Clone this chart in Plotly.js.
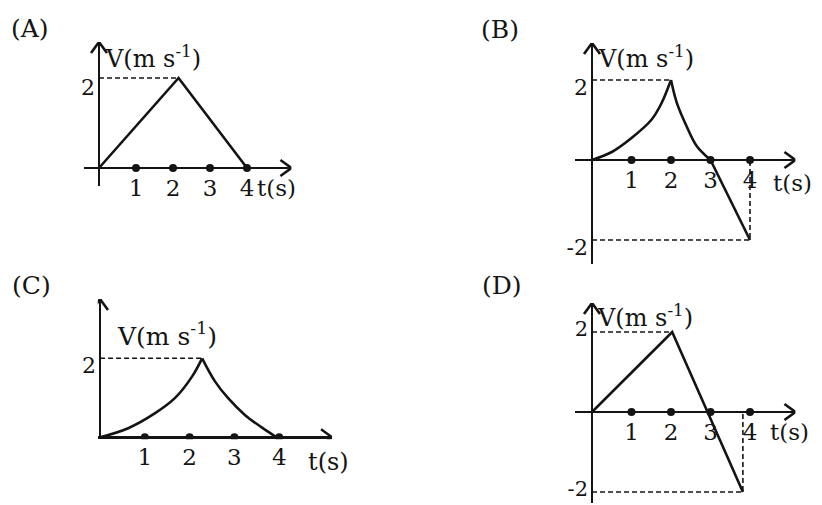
<!DOCTYPE html>
<html>
<head>
<meta charset="utf-8">
<script src="https://cdn.plot.ly/plotly-3.0.1.min.js"></script>
<style>html,body{margin:0;padding:0;background:#fff;}#chart{width:822px;height:505px;}</style>
</head>
<body>
<div id="chart"></div>
<script>
// ---- data ----
const panelNames = ['(A)', '(B)', '(C)', '(D)'];
const tickVals = [1, 2, 3, 4];
const tickLabels = ['1', '2', '3', '4'];
const yTicksPos = [2];
const yTicksPosNeg = [-2, 2];
const yLabelsPos = ['2'];
const yLabelsPosNeg = ['-2', '2'];
const vLabel = 'V(m s<sup>-1</sup>)';
const tLabel = 't(s)';

// (A) straight rise and fall
const tA = [0, 2.15, 4];
const vA = [0, 2, 0];
// (B) curved rise, curved fall, straight tail
const tBrise = [0, 0.5, 1, 1.5, 1.75, 2];
const vBrise = [0, 0.2, 0.55, 1.0, 1.4, 2];
const tBfall = [2, 2.15, 2.4, 2.65, 3];
const vBfall = [2, 1.42, 0.83, 0.35, 0];
const tBtail = [3, 4];
const vBtail = [0, -2];
// (C) curved rise, curved fall
const tCrise = [0, 0.63, 1.23, 1.67, 2.05, 2.28];
const vCrise = [0, 0.23, 0.61, 0.99, 1.53, 2];
const tCfall = [2.28, 2.57, 2.86, 3.24, 3.61, 3.94];
const vCfall = [2, 1.41, 0.99, 0.56, 0.25, 0];
// (D) straight rise then straight fall below zero
const tD = [0, 2.03, 3.82];
const vD = [0, 2, -2];

const INK = '#141414';
const FONT = 'DejaVu Serif';

function curve(x, y, ax, shape) {
  return {x: x, y: y, xaxis: 'x' + ax, yaxis: 'y' + ax, mode: 'lines', type: 'scatter',
    line: {color: INK, width: 2.6, shape: shape || 'linear', smoothing: 1}, hoverinfo: 'skip'};
}
function dashed(x, y, ax) {
  return {x: x, y: y, xaxis: 'x' + ax, yaxis: 'y' + ax, mode: 'lines', type: 'scatter',
    line: {color: INK, width: 1.6, dash: '5px,3px'}, connectgaps: false, hoverinfo: 'skip'};
}
function dots(ax) {
  return {x: tickVals, y: tickVals.map(() => 0), xaxis: 'x' + ax, yaxis: 'y' + ax,
    mode: 'markers', type: 'scatter', marker: {color: INK, size: 8}, hoverinfo: 'skip'};
}
function peakOf(t, v) { const i = v.indexOf(Math.max(...v)); return [t[i], v[i]]; }

const pA = peakOf(tA, vA), pB = peakOf(tBrise, vBrise), pC = peakOf(tCrise, vCrise), pD = peakOf(tD, vD);
const endB = [tBtail[tBtail.length - 1], vBtail[vBtail.length - 1]];
const endD = [tD[tD.length - 1], vD[vD.length - 1]];

const traces = [
  // A
  dashed([0, pA[0]], [pA[1], pA[1]], ''),
  curve(tA, vA, ''),
  dots(''),
  // B
  dashed([0, pB[0], null, 0, endB[0], endB[0]], [pB[1], pB[1], null, endB[1], endB[1], 0], '2'),
  curve(tBrise, vBrise, '2', 'spline'),
  curve(tBfall, vBfall, '2', 'spline'),
  curve(tBtail, vBtail, '2'),
  dots('2'),
  // C
  dashed([0, pC[0]], [pC[1], pC[1]], '3'),
  curve(tCrise, vCrise, '3', 'spline'),
  curve(tCfall, vCfall, '3', 'spline'),
  dots('3'),
  // D
  dashed([0, pD[0], null, 0, endD[0], endD[0]], [pD[1], pD[1], null, endD[1], endD[1], 0], '4'),
  curve(tD, vD, '4'),
  dots('4')
];

function xAx(domain, range, pos) {
  return {domain: domain, range: range, anchor: 'free', position: pos,
    tickmode: 'array', tickvals: tickVals, ticktext: tickLabels, ticks: '',
    ticklabelstandoff: 4, ticklabeloverflow: 'allow', showgrid: false, showline: false,
    zeroline: true, zerolinecolor: INK, zerolinewidth: 2.6, fixedrange: true,
    tickfont: {family: FONT, size: 23, color: INK}};
}
function yAx(domain, range, pos, vals, labels, shift, size) {
  return {domain: domain, range: range, anchor: 'free', position: pos,
    tickmode: 'array', tickvals: vals, ticktext: labels, ticks: '',
    ticklabelstandoff: 4, ticklabelshift: shift, ticklabeloverflow: 'allow',
    showgrid: false, showline: false,
    zeroline: true, zerolinecolor: INK, zerolinewidth: 2.6, fixedrange: true,
    tickfont: {family: FONT, size: size || 22, color: INK}};
}

const rngA = {x: [-0.4, 5.2], y: [-0.4, 2.8]};
const rngB = {x: [-0.43, 5.15], y: [-2.6, 2.925]};
const rngC = {x: [-0.05, 5.18], y: [-0.05, 3.5]};
const rngD = {x: [-0.43, 5.15], y: [-2.275, 2.725]};

// open chevron arrowheads at the axis ends (pixel-sized, anchored at data points)
function arrowShapes(suffix, rng) {
  const base = {type: 'path', xref: 'x' + suffix, yref: 'y' + suffix,
    xsizemode: 'pixel', ysizemode: 'pixel', line: {color: INK, width: 2.6},
    fillcolor: 'rgba(0,0,0,0)'};
  return [
    Object.assign({}, base, {xanchor: rng.x[1], yanchor: 0, path: 'M-11,8 L0,0 L-11,-8'}),
    Object.assign({}, base, {xanchor: 0, yanchor: rng.y[1], path: 'M-8,-11 L0,0 L8,-11'})
  ];
}
function txt(text, x, y, size, anchor) {
  return {text: text, x: x, y: y, xref: 'paper', yref: 'paper', showarrow: false,
    xanchor: anchor || 'left', yanchor: 'middle', font: {family: FONT, size: size, color: INK}};
}

const W = 822, H = 505;
const px = v => v / W, py = v => 1 - v / H;

const shapes = [].concat(arrowShapes('', rngA), arrowShapes('2', rngB), arrowShapes('3', rngC), arrowShapes('4', rngD));

const annotations = [
  txt(panelNames[0], px(30), py(28), 25, 'center'),
  txt(panelNames[1], px(500), py(29), 25, 'center'),
  txt(panelNames[2], px(31), py(285), 25, 'center'),
  txt(panelNames[3], px(502), py(285), 25, 'center'),
  txt(vLabel, px(103), py(57), 24),
  txt(vLabel, px(596), py(57), 24),
  txt(vLabel, px(115), py(334), 25),
  txt(vLabel, px(595), py(316), 24),
  txt(tLabel, px(255), py(188), 23),
  txt(tLabel, px(771), py(183), 23),
  txt(tLabel, px(306), py(462), 24),
  txt(tLabel, px(768), py(432), 23)
];

const layout = {
  width: W, height: H, margin: {l: 0, r: 0, t: 0, b: 0},
  paper_bgcolor: '#ffffff', plot_bgcolor: 'rgba(0,0,0,0)', showlegend: false,
  font: {family: FONT, size: 21, color: INK},
  xaxis:  xAx([0.10243, 0.35450], rngA.x, py(168)),
  yaxis:  yAx([0.63168, 0.91683], rngA.y, px(99), yTicksPos, yLabelsPos, 9),
  xaxis2: xAx([0.69953, 0.96767], rngB.x, py(160)),
  yaxis2: yAx([0.47723, 0.91485], rngB.y, px(592), yTicksPosNeg, yLabelsPosNeg, 7),
  xaxis3: xAx([0.11893, 0.40397], rngC.x, py(437.3)),
  yaxis3: yAx([0.13015, 0.40782], rngC.y, px(100), yTicksPos, yLabelsPos, 7),
  xaxis4: xAx([0.69953, 0.96767], rngD.x, py(412)),
  yaxis4: yAx([0.00396, 0.40000], rngD.y, px(592), yTicksPosNeg, yLabelsPosNeg, -3, 21),
  shapes: shapes,
  annotations: annotations
};

Plotly.newPlot('chart', traces, layout, {staticPlot: true, displayModeBar: false});
</script>
</body>
</html>
